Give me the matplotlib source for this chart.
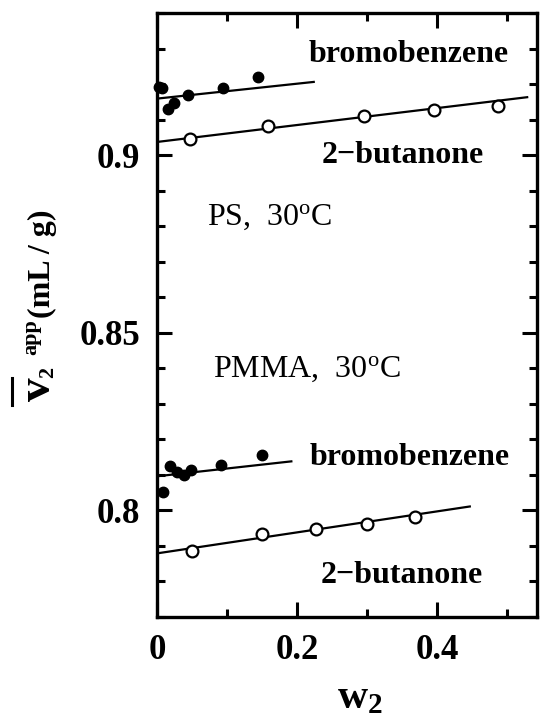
import matplotlib
matplotlib.use('Agg')
import matplotlib.pyplot as plt
from matplotlib.lines import Line2D
from matplotlib.ticker import MultipleLocator

plt.rcParams['font.family'] = ['Liberation Serif', 'DejaVu Serif']
plt.rcParams['mathtext.fontset'] = 'custom'
plt.rcParams['mathtext.rm'] = 'Liberation Serif'
plt.rcParams['mathtext.bf'] = 'Liberation Serif:bold'
plt.rcParams['mathtext.it'] = 'Liberation Serif:italic'

# PS, 30 C
ps_bromo_w = [0.003, 0.007, 0.016, 0.024, 0.045, 0.095, 0.144]
ps_bromo_v = [0.9193, 0.9188, 0.9129, 0.9146, 0.9169, 0.9188, 0.9219]
ps_bromo_fit_w = [0.0, 0.224]
ps_bromo_fit_v = [0.9159, 0.9206]

ps_buta_w = [0.047, 0.158, 0.296, 0.396, 0.487]
ps_buta_v = [0.9045, 0.9081, 0.9110, 0.9126, 0.9138]
ps_buta_fit_w = [0.0, 0.529]
ps_buta_fit_v = [0.9037, 0.9163]

# PMMA, 30 C
pmma_bromo_w = [0.008, 0.018, 0.029, 0.038, 0.048, 0.092, 0.150]
pmma_bromo_v = [0.8051, 0.8124, 0.8107, 0.8101, 0.8115, 0.8129, 0.8157]
pmma_bromo_fit_w = [0.0, 0.192]
pmma_bromo_fit_v = [0.8096, 0.8138]

pmma_buta_w = [0.050, 0.150, 0.227, 0.300, 0.369]
pmma_buta_v = [0.7885, 0.7933, 0.7949, 0.7963, 0.7980]
pmma_buta_fit_w = [0.0, 0.447]
pmma_buta_fit_v = [0.7879, 0.8011]

W, H = 540, 718
fig = plt.figure(figsize=(W / 100, H / 100), dpi=100)
ax = fig.add_axes([0.2907, 0.1407, 0.7037, 0.8412])

# retas de ajuste
for fw, fv in [(ps_bromo_fit_w, ps_bromo_fit_v), (ps_buta_fit_w, ps_buta_fit_v),
               (pmma_bromo_fit_w, pmma_bromo_fit_v), (pmma_buta_fit_w, pmma_buta_fit_v)]:
    ax.plot(fw, fv, '-', color='black', lw=1.6, zorder=2)

# pontos cheios (bromobenzeno) e abertos (2-butanona)
ax.plot(ps_bromo_w, ps_bromo_v, 'o', color='black', ms=7.5, zorder=3, clip_on=False)
ax.plot(pmma_bromo_w, pmma_bromo_v, 'o', color='black', ms=7.5, zorder=3, clip_on=False)
ax.plot(ps_buta_w, ps_buta_v, 'o', mfc='white', mec='black', mew=1.6, ms=8.5, zorder=3)
ax.plot(pmma_buta_w, pmma_buta_v, 'o', mfc='white', mec='black', mew=1.6, ms=8.5, zorder=3)

ax.set_xlim(0, 0.543)
ax.set_ylim(0.77, 0.94)

ax.xaxis.set_minor_locator(MultipleLocator(0.1))
ax.yaxis.set_minor_locator(MultipleLocator(0.01))
ax.set_xticks([0, 0.2, 0.4])
ax.set_xticklabels(['0', '0.2', '0.4'])
ax.set_yticks([0.8, 0.85, 0.9])
ax.set_yticklabels(['0.8', '0.85', '0.9'])

ax.tick_params(which='both', direction='in', top=True, right=True, width=2.2)
ax.tick_params(which='major', length=11, labelsize=25, pad=12)
ax.tick_params(which='minor', length=5.5)
for lab in ax.get_xticklabels() + ax.get_yticklabels():
    lab.set_fontweight('bold')
for sp in ax.spines.values():
    sp.set_linewidth(2.4)

txt = dict(fontsize=23, fontweight='bold', ha='center', va='baseline')
ax.text(0.359, 0.9262, 'bromobenzene', **txt)
ax.text(0.351, 0.8977, '2\u2212butanone', **txt)
ax.text(0.361, 0.8127, 'bromobenzene', **txt)
ax.text(0.350, 0.7797, '2\u2212butanone', **txt)
ax.text(0.072, 0.8803, r'PS,  30$^{\mathrm{o}}$C', fontsize=23, ha='left', va='baseline')
ax.text(0.080, 0.8376, r'PMMA,  30$^{\mathrm{o}}$C', fontsize=23, ha='left', va='baseline')

ax.set_xlabel(r'$\mathbf{w}_{\mathbf{2}}$', fontsize=30)
ax.xaxis.set_label_coords(0.534, -0.102)

# rotulo do eixo y montado em partes (v grande, indices pequenos)
def ylab(px, py, s, size):
    fig.text(px / W, 1 - py / H, s, fontsize=size, fontweight='bold', rotation=90,
             rotation_mode='anchor', ha='left', va='baseline')

ylab(50, 401, 'v', 34)
ylab(53, 378, '2', 16)
ylab(36, 355, 'app', 16)
ylab(50, 318, '(mL / g)', 23)
fig.add_artist(Line2D([12 / W, 12 / W], [1 - 378 / H, 1 - 405 / H], color='black', lw=2.2))

fig.savefig('out.png', dpi=100)
